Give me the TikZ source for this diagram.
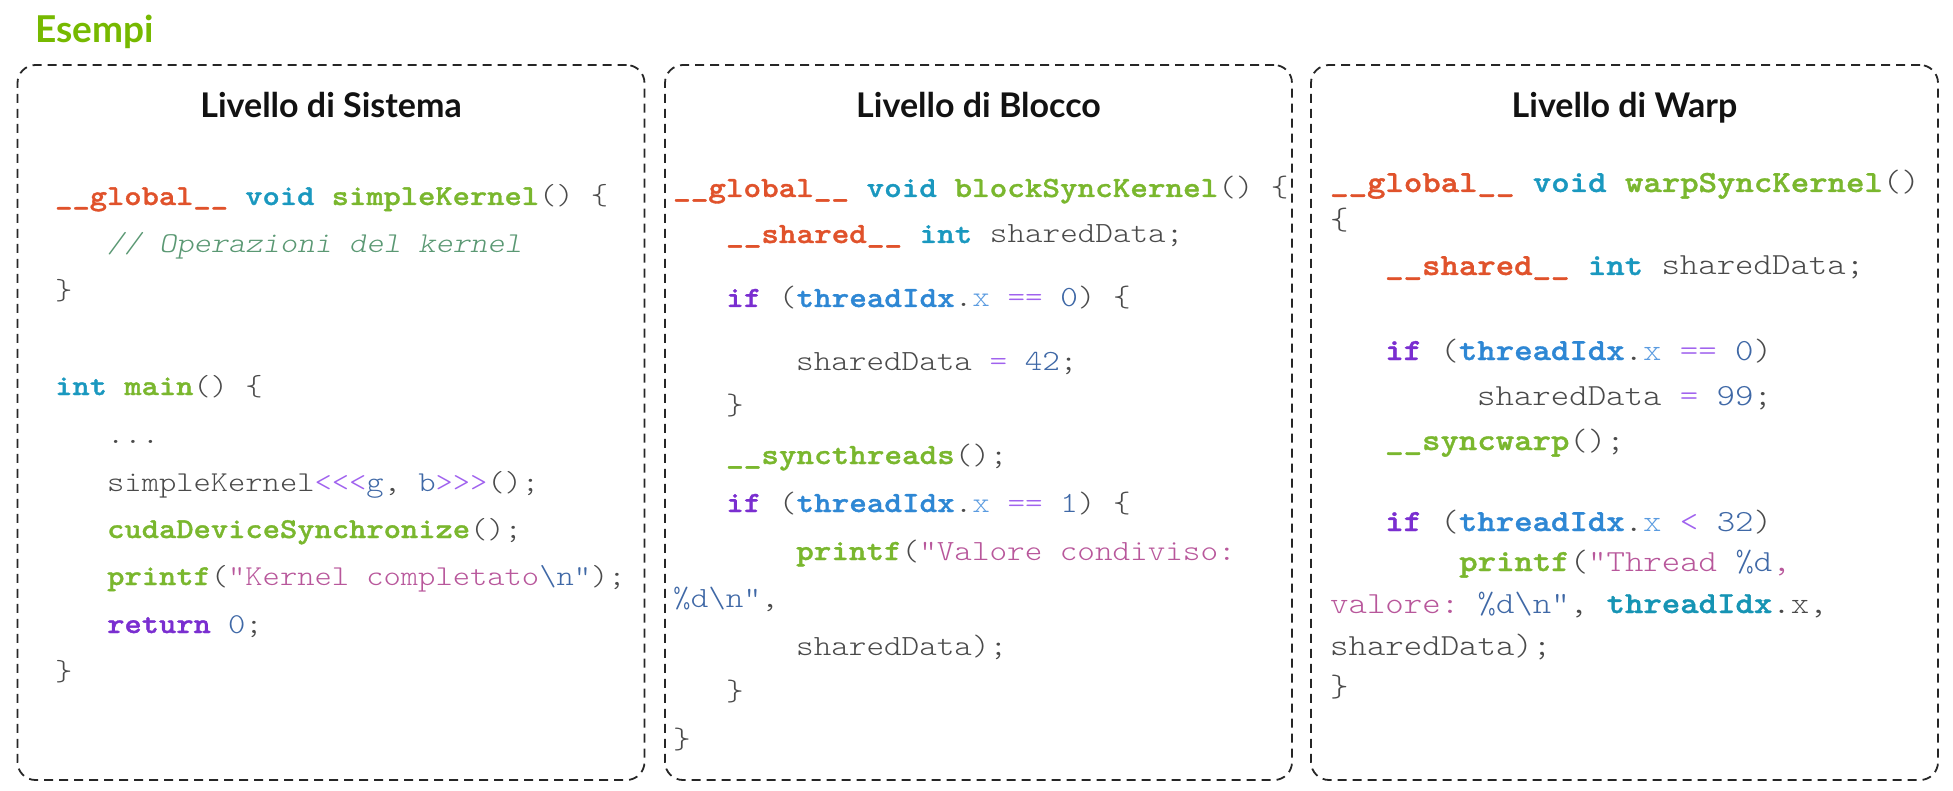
\documentclass[tikz,border=0pt]{standalone}
\usepackage{fontspec}
\setmainfont{Lato}
\newfontfamily\codefont{lmmonolt10-regular.otf}[BoldFont=lmmonolt10-bold.otf,
  BoldFeatures={FakeBold=1.2}, ItalicFont=lmmonolt10-oblique.otf,
  FakeStretch=1.143, WordSpace={1,0,0}]
\usetikzlibrary{positioning}

\definecolor{cudagreen}{HTML}{76B900}
\definecolor{kwglobal}{HTML}{E0522B}
\definecolor{kwtype}{HTML}{1A98BF}
\definecolor{fnname}{HTML}{7AB72E}
\definecolor{plain}{HTML}{4A4A4A}
\definecolor{comment}{HTML}{5A9873}
\definecolor{control}{HTML}{7A2ED0}
\definecolor{builtin}{HTML}{2E87D4}
\definecolor{builtinarg}{HTML}{1694B4}
\definecolor{member}{HTML}{5A9BE0}
\definecolor{oper}{HTML}{A062EE}
\definecolor{number}{HTML}{3F68A6}
\definecolor{string}{HTML}{B8579B}

\newcommand\ckw[1]{{\bfseries\color{kwglobal}#1}}
\newcommand\cty[1]{{\bfseries\color{kwtype}#1}}
\newcommand\cfn[1]{{\bfseries\color{fnname}#1}}
\newcommand\ccm[1]{{\itshape\color{comment}#1}}
\newcommand\cct[1]{{\bfseries\color{control}#1}}
\newcommand\cbi[1]{{\bfseries\color{builtin}#1}}
\newcommand\cbia[1]{{\bfseries\color{builtinarg}#1}}
\newcommand\cmem[1]{{\color{member}#1}}
\newcommand\cop[1]{{\color{oper}#1}}
\newcommand\cnum[1]{{\color{number}#1}}
\newcommand\cstr[1]{{\color{string}#1}}

\begin{document}
\begin{tikzpicture}
        [x=1pt, y=-1pt,
        panel/.style={rectangle, draw=black!85, line width=1.8pt,
        dash pattern=on 9pt off 6pt, rounded corners=18pt,
        minimum width=627pt, minimum height=715pt},
        title/.style={anchor=base, inner sep=0pt, text=black!93,
        font=\bfseries\fontsize{34pt}{38pt}\selectfont},
        code/.style={anchor=base west, inner sep=0pt, text=plain},
        codeA/.style={code, font=\codefont\fontsize{28.8pt}{32pt}\selectfont\frenchspacing},
        codeB/.style={code, font=\codefont\fontsize{29.3pt}{32pt}\selectfont\frenchspacing},
        codeC/.style={code, font=\codefont\fontsize{30.7pt}{34pt}\selectfont\frenchspacing}]
        \useasboundingbox (0,0) rectangle (1953,791);
        \coordinate (tline) at (0,118);
        \node [anchor=base west, inner sep=0pt, text=cudagreen,
          font=\bfseries\fontsize{37pt}{42pt}\selectfont] (heading) at (35,43) {Esempi};
        % the three panels
        \node [panel] (sysbox) at (331,422.5) {};
        \node [panel] (blockbox) at (978.5,422.5) {};
        \node [panel] (warpbox) at (1624.5,422.5) {};
        \node [title] (systitle) at (sysbox.north |- tline) {Livello di Sistema};
        \node [title] (blocktitle) at (blockbox.north |- tline) {Livello di Blocco};
        \node [title] (warptitle) at (warpbox.north |- tline) {Livello di Warp};
        % system level
        \node [codeA] (sys1) at (55,205) {\ckw{\_\_global\_\_} \cty{void} \cfn{simpleKernel}() \{};
        \node [codeA] (sys2) at (107,253) {\ccm{// Operazioni del kernel}};
        \node [codeA] (sys3) at (55,300) {\}};
        \node [codeA] (sys4) at (55,395) {\cty{int} \cfn{main}() \{};
        \node [codeA] (sys5) at (107,443) {...};
        \node [codeA] (sys6) at (107,491) {simpleKernel\cop{<<<}\cnum{g}, \cnum{b}\cop{>>>}();};
        \node [codeA] (sys7) at (107,538) {\cfn{cudaDeviceSynchronize}();};
        \node [codeA] (sys8) at (107,585) {\cfn{printf}(\cstr{"Kernel completato}\cnum{\textbackslash n"});};
        \node [codeA] (sys9) at (107,633) {\cct{return} \cnum{0};};
        \node [codeA] (sys10) at (55,680) {\}};
        % block level
        \node [codeB] (blk1) at (673,197) {\ckw{\_\_global\_\_} \cty{void} \cfn{blockSyncKernel}() \{};
        \node [codeB] (blk2) at (726,243) {\ckw{\_\_shared\_\_} \cty{int} sharedData;};
        \node [codeB] (blk3) at (726,307) {\cct{if} (\cbi{threadIdx}.\cmem{x} \cop{==} \cnum{0}) \{};
        \node [codeB] (blk4) at (796,370) {sharedData \cop{=} \cnum{42};};
        \node [codeB] (blk5) at (726,414) {\}};
        \node [codeB] (blk6) at (726,464) {\cfn{\_\_syncthreads}();};
        \node [codeB] (blk7) at (726,512) {\cct{if} (\cbi{threadIdx}.\cmem{x} \cop{==} \cnum{1}) \{};
        \node [codeB] (blk8) at (796,560) {\cfn{printf}(\cstr{"Valore condiviso:}};
        \node [codeB] (blk9) at (673,607) {\cnum{\%d\textbackslash n"},};
        \node [codeB] (blk10) at (796,655) {sharedData);};
        \node [codeB] (blk11) at (726,700) {\}};
        \node [codeB] (blk12) at (673,748) {\}};
        % warp level
        \node [codeC] (wrp1) at (1330,192) {\ckw{\_\_global\_\_} \cty{void} \cfn{warpSyncKernel}()};
        \node [codeC] (wrp2) at (1330,230) {\{};
        \node [codeC] (wrp3) at (1385,275) {\ckw{\_\_shared\_\_} \cty{int} sharedData;};
        \node [codeC] (wrp4) at (1385,360) {\cct{if} (\cbi{threadIdx}.\cmem{x} \cop{==} \cnum{0})};
        \node [codeC] (wrp5) at (1477,405) {sharedData \cop{=} \cnum{99};};
        \node [codeC] (wrp6) at (1385,450) {\cfn{\_\_syncwarp}();};
        \node [codeC] (wrp7) at (1385,531) {\cct{if} (\cbi{threadIdx}.\cmem{x} \cop{<} \cnum{32})};
        \node [codeC] (wrp8) at (1459,571) {\cfn{printf}(\cstr{"Thread }\cnum{\%d}\cstr{,}};
        \node [codeC] (wrp9) at (1330,613) {\cstr{valore: }\cnum{\%d\textbackslash n"}, \cbia{threadIdx}.x,};
        \node [codeC] (wrp10) at (1330,655) {sharedData);};
        \node [codeC] (wrp11) at (1330,696) {\}};
    \end{tikzpicture}
\end{document}
